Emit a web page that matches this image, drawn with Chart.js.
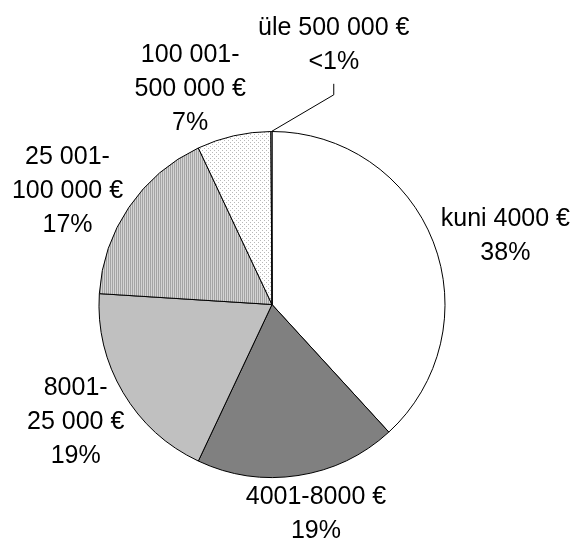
<!DOCTYPE html>
<html>
<head>
<meta charset="utf-8">
<script src="https://cdn.jsdelivr.net/npm/chart.js@4"></script>
<style>
  body { margin: 0; background: #fff; }
  canvas { display: block; }
</style>
</head>
<body>
<canvas id="pieChart" width="576" height="545"></canvas>
<script>
// Andmed
const categories = ['kuni 4000 €', '4001-8000 €', '8001-25 000 €', '25 001-100 000 €', '100 001-500 000 €', 'üle 500 000 €'];
const shares = [38.2, 18.8, 19.0, 17.0, 6.9, 0.1];
const shareLabels = ['38%', '19%', '19%', '17%', '7%', '<1%'];
const labelLines = [
  ['kuni 4000 €'],
  ['4001-8000 €'],
  ['8001-', '25 000 €'],
  ['25 001-', '100 000 €'],
  ['100 001-', '500 000 €'],
  ['üle 500 000 €']
];

// sildi keskpunkt pirukaraadiuse ühikutes (keskpunktist)
const labelSpots = [[1.349, -0.398], [0.254, 1.210], [-1.135, 0.680], [-1.182, -0.654], [-0.473, -1.245], [0.357, -1.501]];
const LINE_H = 34;
const FONT = '25px "Liberation Sans", Arial, sans-serif';

function makePattern(w, h, bg, dots) {
  const c = document.createElement('canvas');
  c.width = w; c.height = h;
  const g = c.getContext('2d');
  g.fillStyle = bg;
  g.fillRect(0, 0, w, h);
  dots.forEach(([x, y, col]) => {
    g.fillStyle = col;
    g.fillRect(x, y, 1, 1);
  });
  return g.createPattern(c, 'repeat');
}

const stripes = makePattern(2, 2, '#d4d4d4', [[0, 0, '#a4a4a4'], [0, 1, '#a4a4a4']]);
const dotted = makePattern(4, 4, '#ffffff', [[0, 0, '#b8b8b8'], [2, 2, '#b8b8b8']]);

const colors = ['#ffffff', '#808080', '#c0c0c0', stripes, dotted, '#ffffff'];

// Sildid ja juhtjoon
const labelPlugin = {
  id: 'pieLabels',
  afterDraw(chart) {
    const ctx = chart.ctx;
    const arcs = chart.getDatasetMeta(0).data;
    ctx.save();
    ctx.font = FONT;
    ctx.fillStyle = '#000';
    ctx.textAlign = 'center';
    ctx.textBaseline = 'middle';
    arcs.forEach((arc, i) => {
      const r = arc.outerRadius;
      const lines = labelLines[i].concat([shareLabels[i]]);
      const cx = arc.x + labelSpots[i][0] * r;
      const cy = arc.y + labelSpots[i][1] * r;
      const top = cy - (lines.length - 1) * LINE_H / 2;
      lines.forEach((t, k) => ctx.fillText(t, cx, top + k * LINE_H));

      if (i === arcs.length - 1) {
        // väikese sektori juhtjoon
        const mid = (arc.startAngle + arc.endAngle) / 2;
        const px = arc.x + Math.cos(mid) * r;
        const py = arc.y + Math.sin(mid) * r;
        const by = top + (lines.length - 1) * LINE_H + 22;
        ctx.strokeStyle = '#000';
        ctx.lineWidth = 1;
        ctx.beginPath();
        ctx.moveTo(px, py);
        ctx.lineTo(cx, by + 11);
        ctx.lineTo(cx, by);
        ctx.stroke();
      }
    });
    ctx.restore();
  }
};

new Chart(document.getElementById('pieChart'), {
  type: 'pie',
  data: {
    labels: categories,
    datasets: [{
      data: shares,
      backgroundColor: colors,
      borderColor: '#000',
      borderWidth: 1
    }]
  },
  options: {
    responsive: false,
    animation: false,
    layout: { padding: { left: 98, right: 130, top: 131, bottom: 67 } },
    plugins: {
      legend: { display: false },
      tooltip: { enabled: false }
    }
  },
  plugins: [labelPlugin]
});
</script>
</body>
</html>
